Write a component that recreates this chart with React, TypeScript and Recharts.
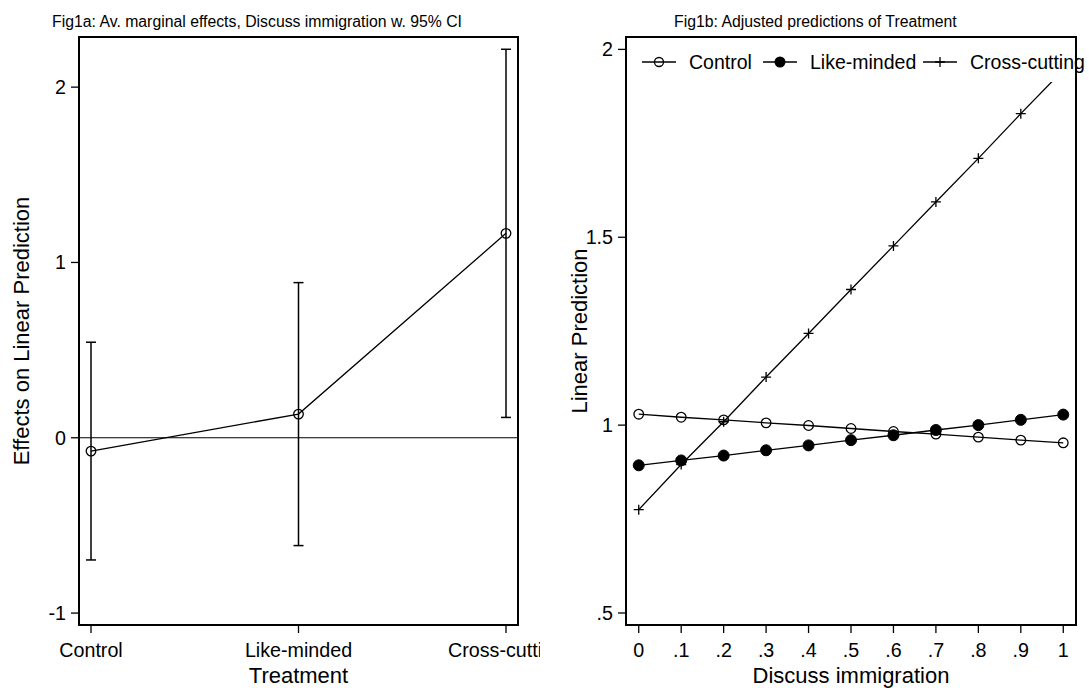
import { LineChart, Line, XAxis, YAxis, ErrorBar, ReferenceLine, Legend } from "recharts";

// Fig1a: average marginal effects with 95% CI
const treatments = ["Control", "Like-minded", "Cross-cutting"];
const effectEst = [-0.076, 0.135, 1.166];
const effectLow = [-0.697, -0.615, 0.116];
const effectHigh = [0.545, 0.885, 2.216];
const effectTicks = [-1, 0, 1, 2];

// Fig1b: adjusted predictions by discuss immigration
const discussLevels = [0, 0.1, 0.2, 0.3, 0.4, 0.5, 0.6, 0.7, 0.8, 0.9, 1];
const controlPred = [1.029, 1.021, 1.014, 1.006, 0.999, 0.991, 0.983, 0.976, 0.968, 0.96, 0.953];
const likePred = [0.893, 0.906, 0.919, 0.933, 0.946, 0.96, 0.973, 0.987, 1.0, 1.014, 1.028];
const crossPred = [0.775, 0.895, 1.009, 1.128, 1.244, 1.361, 1.477, 1.594, 1.71, 1.829, 1.945];
const predTicks = [0.5, 1, 1.5, 2];

const effectData = treatments.map((t, i) => ({
  name: t,
  est: effectEst[i],
  ci: [effectEst[i] - effectLow[i], effectHigh[i] - effectEst[i]],
}));

const predData = discussLevels.map((x, i) => ({
  x,
  control: controlPred[i],
  like: likePred[i],
  cross: crossPred[i],
}));

const FONT = '"Liberation Sans", Arial, sans-serif';
const BLACK = "#000";

// stata style: drop the leading zero
const stataNum = (v: number) => {
  const s = String(v);
  return s.startsWith("0.") ? s.slice(1) : s;
};

const tickStyle = { fill: BLACK, fontSize: 19.7 };
const tickLine = { stroke: BLACK, strokeWidth: 1.3 };
const axisLine = { stroke: BLACK, strokeWidth: 2, strokeLinecap: "square" as const };

const hollow = (p: any) => (
  <circle key={`h${p.index}`} cx={p.cx} cy={p.cy} r={4.8} fill="none" stroke={BLACK} strokeWidth={1.3} />
);
const filled = (p: any) => (
  <circle key={`f${p.index}`} cx={p.cx} cy={p.cy} r={5.5} fill={BLACK} stroke={BLACK} strokeWidth={1} />
);
const plus = (p: any) => (
  <path
    key={`p${p.index}`}
    d={`M${p.cx - 5},${p.cy}H${p.cx + 5}M${p.cx},${p.cy - 5}V${p.cy + 5}`}
    stroke={BLACK}
    strokeWidth={1.3}
    fill="none"
  />
);

const legendMarks = ["hollow", "filled", "plus"];
const legendTextX = [62, 183, 343];

const LegendBox = () => (
  <div style={{ position: "relative", width: 448, height: 44, fontFamily: FONT, fontSize: 19.5 }}>
    {treatments.map((t, i) => (
      <div
        key={t}
        style={{ position: "absolute", left: legendTextX[i] - 47, top: 12, height: 24, display: "flex", alignItems: "center", whiteSpace: "nowrap" }}
      >
        <svg width={34} height={14} style={{ marginRight: 13 }}>
          <line x1={0} y1={7} x2={34} y2={7} stroke={BLACK} strokeWidth={1.3} />
          {legendMarks[i] === "hollow" && <circle cx={17} cy={7} r={4.5} fill="none" stroke={BLACK} strokeWidth={1.3} />}
          {legendMarks[i] === "filled" && <circle cx={17} cy={7} r={5.5} fill={BLACK} />}
          {legendMarks[i] === "plus" && <path d="M12,7H22M17,2V12" stroke={BLACK} strokeWidth={1.3} />}
        </svg>
        <span style={{ color: BLACK }}>{t}</span>
      </div>
    ))}
  </div>
);

export default function App() {
  return (
    <div style={{ position: "absolute", left: 0, top: 0, width: 1089, height: 688, background: "#fff", fontFamily: FONT }}>
      <div style={{ position: "absolute", left: 52, top: 14, fontSize: 15.8, lineHeight: 1, whiteSpace: "nowrap", color: BLACK }}>
        Fig1a: Av. marginal effects, Discuss immigration w. 95% CI
      </div>
      <div style={{ position: "absolute", left: 674, top: 14, fontSize: 15.8, lineHeight: 1, whiteSpace: "nowrap", color: BLACK }}>
        Fig1b: Adjusted predictions of Treatment
      </div>

      <div style={{ position: "absolute", left: 0, top: 0 }}>
        <LineChart width={540} height={688} data={effectData} margin={{ top: 36, right: 21, bottom: 0, left: 0 }}>
          <XAxis
            dataKey="name"
            scale="point"
            padding={{ left: 12, right: 12 }}
            height={63}
            interval={0}
            tickSize={8}
            tickMargin={10}
            tick={tickStyle}
            tickLine={tickLine}
            axisLine={axisLine}
            label={{ value: "Treatment", position: "insideBottom", offset: 5, fill: BLACK, fontSize: 22 }}
          />
          <XAxis xAxisId="top" dataKey="name" orientation="top" height={1} tick={false} tickLine={false} axisLine={axisLine} />
          <YAxis
            type="number"
            domain={[-1.068, 2.286]}
            allowDataOverflow
            ticks={effectTicks}
            width={79}
            tickSize={8}
            tickMargin={5}
            tick={tickStyle}
            tickLine={tickLine}
            axisLine={axisLine}
            label={{
              value: "Effects on Linear Prediction",
              angle: -90,
              position: "insideLeft",
              offset: 21,
              fill: BLACK,
              fontSize: 22,
              style: { textAnchor: "middle" },
            }}
          />
          <YAxis yAxisId="right" type="number" domain={[-1.068, 2.286]} orientation="right" width={1} tick={false} tickLine={false} axisLine={axisLine} />
          <ReferenceLine y={0} stroke={BLACK} strokeWidth={1.2} />
          <Line dataKey="est" stroke={BLACK} strokeWidth={1.3} dot={hollow} activeDot={false} isAnimationActive={false}>
            <ErrorBar dataKey="ci" width={5} stroke={BLACK} strokeWidth={1.5} direction="y" isAnimationActive={false} />
          </Line>
        </LineChart>
      </div>

      <div style={{ position: "absolute", left: 540, top: 0 }}>
        <LineChart width={549} height={688} data={predData} margin={{ top: 36, right: 12, bottom: 0, left: 0 }}>
          <XAxis
            dataKey="x"
            type="number"
            domain={[-0.03, 1.03]}
            allowDataOverflow
            ticks={discussLevels}
            tickFormatter={stataNum}
            height={63}
            interval={0}
            tickSize={8}
            tickMargin={10}
            tick={tickStyle}
            tickLine={tickLine}
            axisLine={axisLine}
            label={{ value: "Discuss immigration", position: "insideBottom", offset: 5, fill: BLACK, fontSize: 22 }}
          />
          <XAxis xAxisId="top" dataKey="x" type="number" domain={[-0.03, 1.03]} orientation="top" height={1} tick={false} tickLine={false} axisLine={axisLine} />
          <YAxis
            type="number"
            domain={[0.468, 2.033]}
            allowDataOverflow
            ticks={predTicks}
            tickFormatter={stataNum}
            width={86}
            tickSize={8}
            tickMargin={5}
            tick={tickStyle}
            tickLine={tickLine}
            axisLine={axisLine}
            label={{
              value: "Linear Prediction",
              angle: -90,
              position: "insideLeft",
              offset: 39,
              fill: BLACK,
              fontSize: 22,
              style: { textAnchor: "middle" },
            }}
          />
          <YAxis yAxisId="right" type="number" domain={[0.468, 2.033]} orientation="right" width={1} tick={false} tickLine={false} axisLine={axisLine} />
          <Line dataKey="control" name="Control" stroke={BLACK} strokeWidth={1.3} dot={hollow} activeDot={false} isAnimationActive={false} />
          <Line dataKey="like" name="Like-minded" stroke={BLACK} strokeWidth={1.3} dot={filled} activeDot={false} isAnimationActive={false} />
          <Line dataKey="cross" name="Cross-cutting" stroke={BLACK} strokeWidth={1.3} dot={plus} activeDot={false} isAnimationActive={false} />
          <Legend
            layout="horizontal"
            verticalAlign="middle"
            align="center"
            wrapperStyle={{ left: 87, top: 38, width: 448, height: 44, background: "#fff" }}
            content={() => <LegendBox />}
          />
        </LineChart>
      </div>
    </div>
  );
}
